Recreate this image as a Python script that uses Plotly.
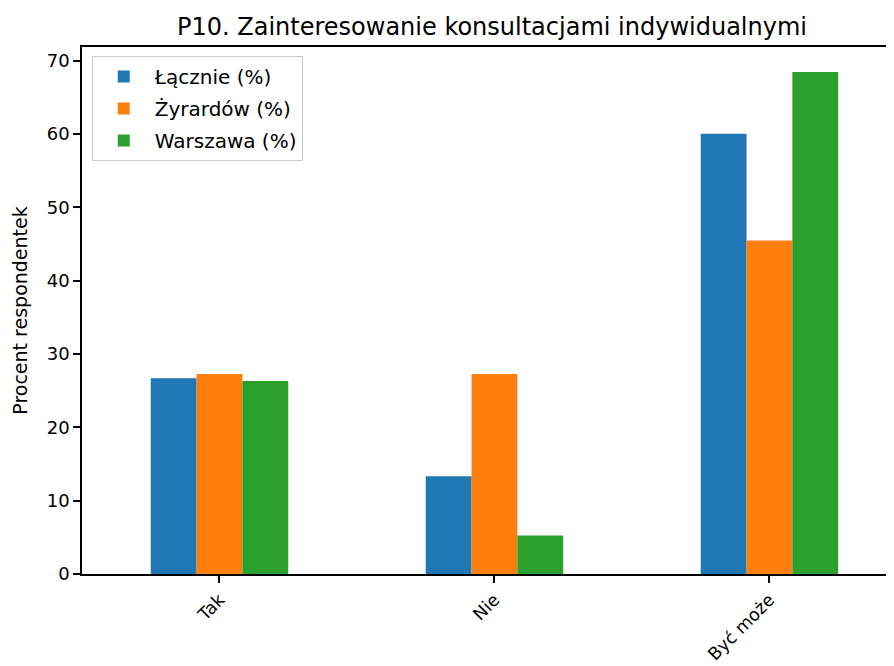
import plotly.graph_objects as go

categories = ["Tak", "Nie", "Być może"]
lacznie = [26.67, 13.33, 60.0]
zyrardow = [27.27, 27.27, 45.45]
warszawa = [26.32, 5.26, 68.42]
series_names = ["Łącznie (%)", "Żyrardów (%)", "Warszawa (%)"]
colors = ["#1f77b4", "#ff7f0e", "#2ca02c"]

FONT = "DejaVu Sans"
fig = go.Figure()
for i, (name, vals, col) in enumerate(zip(series_names, [lacznie, zyrardow, warszawa], colors)):
    fig.add_trace(go.Bar(x=list(range(len(categories))), y=vals, name=name,
                         legendgroup=f"g{i}",
                         marker=dict(color=col, line=dict(width=0))))

fig.update_layout(
    width=886, height=658,
    margin=dict(l=74, r=0, t=38.5, b=92, autoexpand=False),
    plot_bgcolor="white", paper_bgcolor="white",
    barmode="group", bargap=0.5, bargroupgap=0,
    font=dict(family=FONT, size=19, color="black"),
    title=dict(text="P10. Zainteresowanie konsultacjami indywidualnymi",
               x=484/886, xanchor="center", y=1-19/658, yanchor="middle",
               font=dict(size=24, family=FONT, color="black")),
    legend=dict(x=0.012, y=0.983, xanchor="left", yanchor="top",
                bgcolor="rgba(255,255,255,0.8)", bordercolor="#cccccc", borderwidth=1,
                font=dict(size=20, family=FONT), tracegroupgap=3, itemwidth=52),
    xaxis=dict(range=[-0.5, 2.453], tickmode="array", tickvals=[0, 1, 2], ticktext=categories,
               tickangle=-45, showline=True, linecolor="black", linewidth=1.5, mirror=True,
               ticks="outside", ticklen=7, tickwidth=1.5, tickcolor="black", showgrid=False, zeroline=False,
               automargin=False, tickfont=dict(size=17.5, family=FONT)),
    yaxis=dict(range=[0, 71.84], tickmode="array", tickvals=[0, 10, 20, 30, 40, 50, 60, 70],
               showline=True, linecolor="black", linewidth=1.5,
               ticks="outside", ticklen=7, tickwidth=1.5, tickcolor="black", showgrid=False, zeroline=False,
               automargin=False,
               title=dict(text="Procent respondentek", font=dict(size=19, family=FONT), standoff=14),
               tickfont=dict(size=18, family=FONT)),
)
fig.write_html("out.html")
